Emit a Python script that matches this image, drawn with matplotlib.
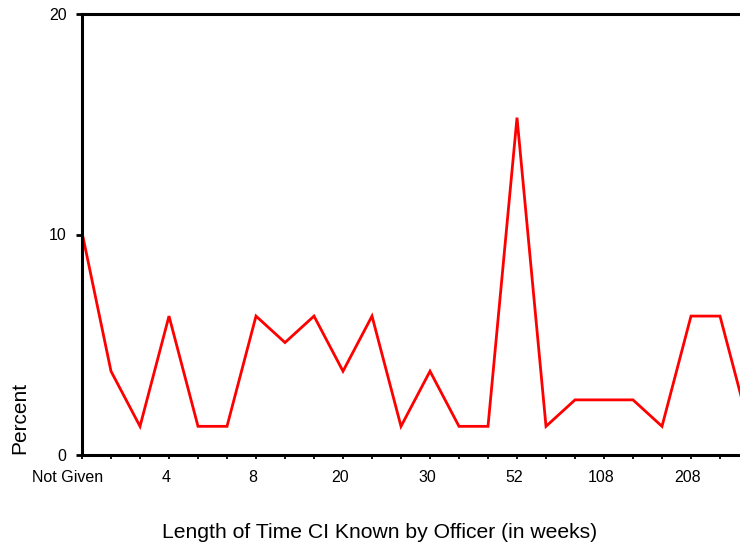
import matplotlib
matplotlib.use("Agg")
import matplotlib.pyplot as plt
import matplotlib.transforms as mtrans

# percent of officers by how long the CI has been known (weeks)
tick_labels = ["Not Given", "", "", "4", "", "", "8", "", "", "20", "", "",
               "30", "", "", "52", "", "", "108", "", "", "208", "", ""]
percent = [10.1, 3.8, 1.3, 6.3, 1.3, 1.3, 6.3, 5.1, 6.3, 3.8, 6.3, 1.3,
           3.8, 1.3, 1.3, 15.3, 1.3, 2.5, 2.5, 2.5, 1.3, 6.3, 6.3, 1.3]

plt.rcParams['font.family'] = ['Liberation Sans', 'DejaVu Sans']

fig = plt.figure(figsize=(7.4, 5.46), dpi=100)
# axes runs past the right edge of the figure, like the original
ax = fig.add_axes([82/740, 91/546, 696/740, 441/546])

pos = range(len(percent))
ax.plot(pos, percent, color='#ff0000', lw=2.0, solid_joinstyle='miter')

ax.set_xlim(0, 24)
ax.set_ylim(0, 20)
ax.set_yticks([0, 10, 20])
ax.set_xticks(list(pos))
ax.set_xticklabels(tick_labels)

ax.spines['right'].set_visible(False)
for s in ['left', 'top', 'bottom']:
    ax.spines[s].set_linewidth(2.2)
    ax.spines[s].set_color('black')

ax.tick_params(axis='y', direction='out', length=4, width=2, pad=7, labelsize=11.5)
ax.tick_params(axis='x', direction='out', length=3, width=1.3, pad=8, labelsize=11.5)

# labels sit a little left of their ticks, "Not Given" more so
for i, lbl in enumerate(ax.get_xticklabels()):
    dx = -14 if i == 0 else -3
    lbl.set_transform(lbl.get_transform() + mtrans.ScaledTranslation(dx/100, 0, fig.dpi_scale_trans))

fig.text(380/740, 14/546, "Length of Time CI Known by Officer (in weeks)",
         ha='center', va='center', fontsize=15.2)
fig.text(20/740, 1 - 454/546, "Percent", rotation=90,
         ha='center', va='bottom', fontsize=15)

fig.savefig("out.png", dpi=100)
